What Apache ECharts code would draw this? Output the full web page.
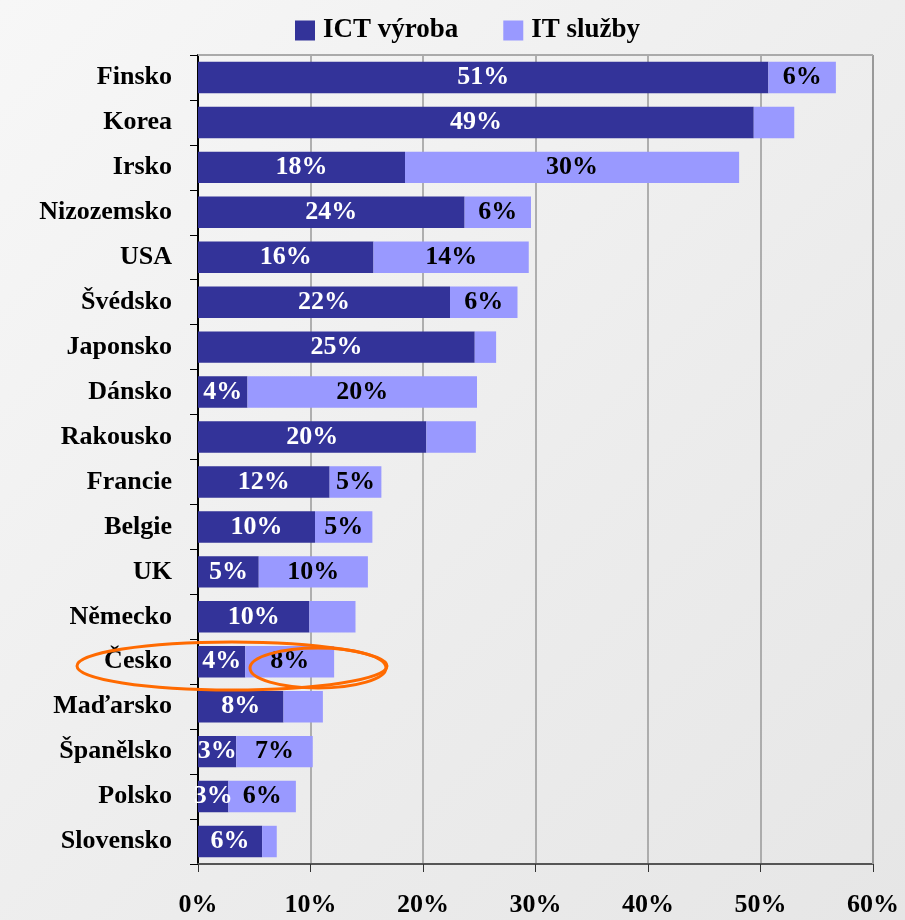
<!DOCTYPE html>
<html><head><meta charset="utf-8">
<script src="https://cdn.jsdelivr.net/npm/echarts@6/dist/echarts.min.js"></script>
<style>html,body{margin:0;padding:0;}#c{width:905px;height:920px;background:linear-gradient(135deg,#f7f7f7 0%,#ececec 60%,#e6e6e6 100%);}</style>
</head><body><div id="c"></div>
<script>
var categories = ["Finsko","Korea","Irsko","Nizozemsko","USA","Švédsko","Japonsko","Dánsko","Rakousko","Francie","Belgie","UK","Německo","Česko","Maďarsko","Španělsko","Polsko","Slovensko"];
var ictVyroba = [50.7,49.4,18.4,23.7,15.6,22.4,24.6,4.4,20.3,11.7,10.4,5.4,9.9,4.2,7.6,3.4,2.7,5.7];
var itSluzby  = [6.0,3.6,29.7,5.9,13.8,6.0,1.9,20.4,4.4,4.6,5.1,9.7,4.1,7.9,3.5,6.8,6.0,1.3];
var xTicks = [0,10,20,30,40,50,60];

var FONT = '"Liberation Serif","Times New Roman",serif';
var chart = echarts.init(document.getElementById('c'), null, {renderer:'canvas'});
function lbl(color, threshold){
  return {show:true, position:'inside', color:color, fontFamily:FONT, fontWeight:'bold', fontSize:26,
    formatter:function(p){ return p.value >= threshold ? Math.round(p.value)+'%' : ''; }};
}
chart.setOption({
  backgroundColor:'transparent',
  animation:false,
  legend:{top:12,left:290,itemWidth:20,itemHeight:20,itemGap:45,icon:'rect',
    textStyle:{fontFamily:FONT,fontWeight:'bold',fontSize:27,color:'#000',padding:[0,0,0,3]},
    data:['ICT výroba','IT služby']},
  grid:{left:198,right:32,top:55,bottom:56,containLabel:false,show:false},
  xAxis:{type:'value',min:xTicks[0],max:xTicks[xTicks.length-1],interval:10,
    axisLine:{show:true,lineStyle:{color:'#555',width:2}},
    axisTick:{show:true,length:8,lineStyle:{color:'#333'}},
    splitLine:{show:true,lineStyle:{color:'#999',width:1.5}},
    axisLabel:{margin:28,fontFamily:FONT,fontWeight:'bold',fontSize:26,color:'#000',
      formatter:function(v){return v+'%';}}},
  yAxis:{type:'category',inverse:true,data:categories,
    axisLine:{show:true,lineStyle:{color:'#000',width:2}},
    axisTick:{show:true,length:8,lineStyle:{color:'#000'}},
    axisLabel:{margin:26,fontFamily:FONT,fontWeight:'bold',fontSize:26,color:'#000'}},
  graphic:[
    {type:'line',shape:{x1:873,y1:55,x2:873,y2:864},style:{stroke:'#999',lineWidth:2},silent:true,z:1},
    {type:'line',shape:{x1:198,y1:55,x2:873,y2:55},style:{stroke:'#aaa',lineWidth:2},silent:true,z:1},
    {type:'ellipse',shape:{cx:232,cy:666,rx:155,ry:24},style:{stroke:'#ff6a00',lineWidth:3,fill:null},z:100,silent:true},
    {type:'ellipse',shape:{cx:318,cy:668,rx:68,ry:20},style:{stroke:'#ff6a00',lineWidth:3,fill:null},z:100,silent:true}
  ],
  series:[
    {name:'ICT výroba',type:'bar',stack:'a',barCategoryGap:'30%',data:ictVyroba,
     itemStyle:{color:'#333399'},label:lbl('#fff',2.5)},
    {name:'IT služby',type:'bar',stack:'a',barCategoryGap:'30%',data:itSluzby,
     itemStyle:{color:'#9999ff'},label:lbl('#000',4.5)}
  ]
});
</script></body></html>
